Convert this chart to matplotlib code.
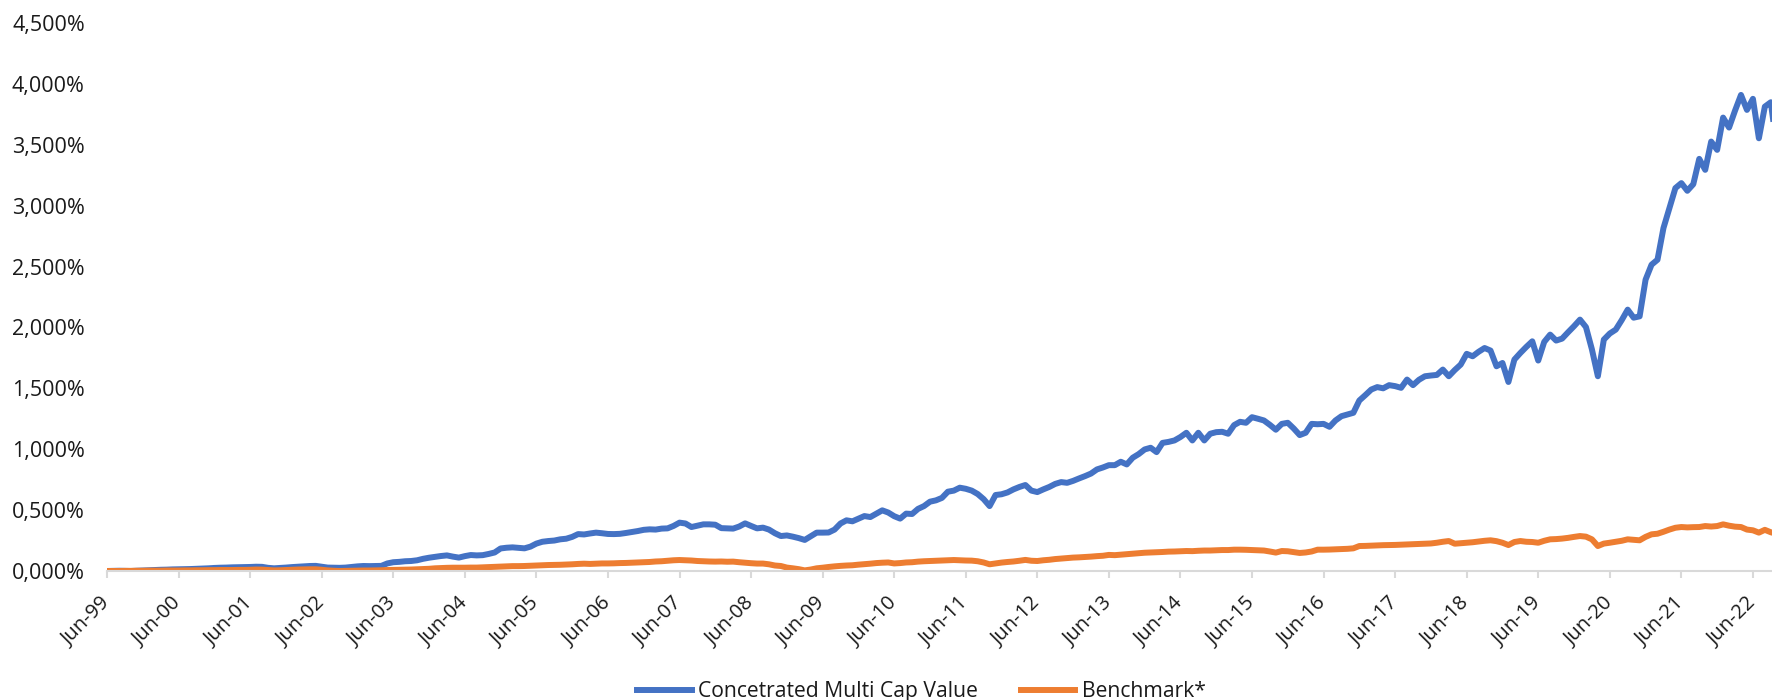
import numpy as np
import matplotlib.pyplot as plt
from matplotlib.ticker import FuncFormatter

plt.rcParams['font.family'] = ['Open Sans', 'DejaVu Sans']

# Rentabilidad acumulada mensual (%), desde jun-99
concentrated = [
    0, 1, 2, 1, 0, 2, 4, 6, 8, 10, 11, 13,                              # jun-99
    14, 15, 16, 18, 20, 22, 25, 27, 28, 30, 31, 32,                     # jun-00
    33, 35, 34, 26, 22, 25, 28, 32, 35, 38, 41, 42,                     # jun-01
    35, 28, 27, 26, 28, 33, 38, 41, 40, 41, 42, 62,                     # jun-02
    72, 75, 80, 82, 88, 100, 109, 116, 123, 128, 118, 110,              # jun-03
    122, 131, 128, 130, 140, 152, 185, 191, 194, 190, 186, 200,         # jun-04
    225, 240, 246, 250, 260, 265, 280, 303, 300, 308, 315, 310,         # jun-05
    304, 303, 305, 312, 320, 328, 338, 342, 340, 348, 350, 370,         # jun-06
    397, 390, 361, 372, 383, 383, 380, 352, 350, 348, 365, 391,         # jun-07
    370, 350, 356, 340, 310, 287, 292, 282, 270, 255, 285, 315,         # jun-08
    315, 316, 340, 390, 416, 408, 430, 451, 443, 470, 498, 480,         # jun-09
    450, 430, 471, 468, 510, 533, 569, 580, 600, 651, 660, 684,         # jun-10
    675, 660, 632, 590, 533, 624, 630, 645, 670, 690, 706, 660,         # jun-11
    648, 670, 690, 715, 730, 724, 740, 760, 779, 800, 834, 850,         # jun-12
    869, 869, 897, 875, 930, 960, 998, 1012, 976, 1052, 1060, 1072,     # jun-13
    1100, 1135, 1072, 1135, 1072, 1127, 1140, 1143, 1127, 1198, 1225, 1217,  # jun-14
    1263, 1250, 1236, 1200, 1160, 1208, 1217, 1170, 1116, 1135, 1208, 1205,  # jun-15
    1208, 1184, 1236, 1271, 1285, 1299, 1400, 1444, 1490, 1510, 1500, 1526,  # jun-16
    1518, 1504, 1572, 1526, 1570, 1599, 1605, 1610, 1654, 1599, 1650, 1695,  # jun-17
    1783, 1763, 1800, 1831, 1810, 1681, 1708, 1552, 1736, 1790, 1840, 1886,  # jun-18
    1728, 1881, 1941, 1892, 1908, 1960, 2010, 2064, 2003, 1820, 1599, 1900,  # jun-19
    1950, 1982, 2060, 2146, 2080, 2091, 2392, 2515, 2556, 2816, 2980, 3144,  # jun-20
    3185, 3122, 3176, 3384, 3294, 3526, 3458, 3723, 3641, 3780, 3909, 3786,  # jun-21
    3877, 3553, 3813, 3849, 3480,                                             # jun-22
]

benchmark = [
    0, 0, 0, 1, 1, 2, 2, 3, 3, 3, 4, 4,
    4, 5, 5, 6, 6, 7, 7, 8, 8, 8, 9, 9,
    10, 12, 11, 8, 5, 6, 8, 10, 12, 13, 14, 14,
    10, 5, 2, 0, 1, 2, 3, 4, 4, 5, 6, 8,
    9, 10, 11, 12, 14, 16, 18, 22, 24, 26, 27, 27,
    27, 28, 28, 30, 32, 34, 36, 38, 40, 40, 41, 43,
    45, 47, 49, 50, 51, 53, 55, 58, 60, 58, 60, 62,
    62, 63, 65, 66, 68, 70, 72, 74, 78, 80, 84, 88,
    90, 88, 86, 82, 80, 78, 77, 78, 76, 77, 72, 68,
    64, 61, 61, 55, 45, 41, 28, 22, 15, 5, 12, 22,
    27, 33, 38, 42, 45, 47, 52, 56, 60, 65, 68, 70,
    62, 65, 70, 72, 77, 80, 82, 84, 86, 88, 90, 88,
    86, 85, 80, 70, 55, 62, 69, 74, 78, 84, 91, 84,
    82, 88, 92, 98, 102, 106, 110, 112, 115, 118, 122, 125,
    132, 130, 134, 138, 142, 146, 150, 152, 154, 156, 159, 160,
    162, 164, 163, 166, 168, 168, 170, 172, 172, 175, 175, 174,
    172, 170, 168, 160, 151, 164, 162, 155, 148, 152, 160, 175,
    175, 176, 178, 180, 182, 186, 205, 206, 208, 210, 212, 213,
    214, 216, 218, 220, 222, 224, 226, 232, 240, 246, 224, 228,
    232, 236, 242, 248, 252, 245, 232, 213, 238, 246, 240, 238,
    232, 248, 260, 262, 266, 272, 280, 287, 282, 260, 205, 225,
    232, 240, 248, 260, 256, 252, 280, 301, 306, 322, 340, 355,
    361, 358, 360, 361, 369, 365, 369, 383, 372, 364, 361, 340,
    334, 315, 338, 318, 305,
]

years = list(range(1999, 2023))
tick_labels = [f"Jun-{y % 100:02d}" for y in years]

months = np.arange(len(concentrated))

fig = plt.figure(figsize=(17.72, 7.0), dpi=100)
ax = fig.add_axes([0.0604, 0.1843, 0.9396, 0.7829])

ax.plot(months, concentrated, color='#4472C4', lw=4.3,
        solid_joinstyle='round', label='Concetrated Multi Cap Value')
ax.plot(months, benchmark, color='#ED7D31', lw=4.3,
        solid_joinstyle='round', label='Benchmark*')

# Ejes
ax.set_xlim(0, 279.2)
ax.set_ylim(0, 4500)
ax.set_yticks(np.arange(0, 4501, 500))
ax.yaxis.set_major_formatter(
    FuncFormatter(lambda v, p: f"{int(v) // 1000},{int(v) % 1000:03d}%"))
ax.set_xticks([12 * i for i in range(len(years))])
ax.set_xticklabels(tick_labels, rotation=45, ha='right', va='center',
                   rotation_mode='anchor')

for s in ['top', 'right', 'left']:
    ax.spines[s].set_visible(False)
ax.spines['bottom'].set_color('#d9d9d9')
ax.spines['bottom'].set_linewidth(1.5)

ax.tick_params(axis='y', length=0, pad=16, labelsize=15.5, labelcolor='#1a1a1a')
ax.tick_params(axis='x', length=5, width=1.5, color='#d9d9d9', pad=16,
               labelsize=14.5, labelcolor='#1a1a1a')

fig.legend(loc='center', bbox_to_anchor=(0.52, 0.012), ncol=2, frameon=False,
           fontsize=15.2, handlelength=2.6, handletextpad=0.3,
           columnspacing=2.0, labelcolor='#1a1a1a')

fig.savefig('out.png', dpi=100)
